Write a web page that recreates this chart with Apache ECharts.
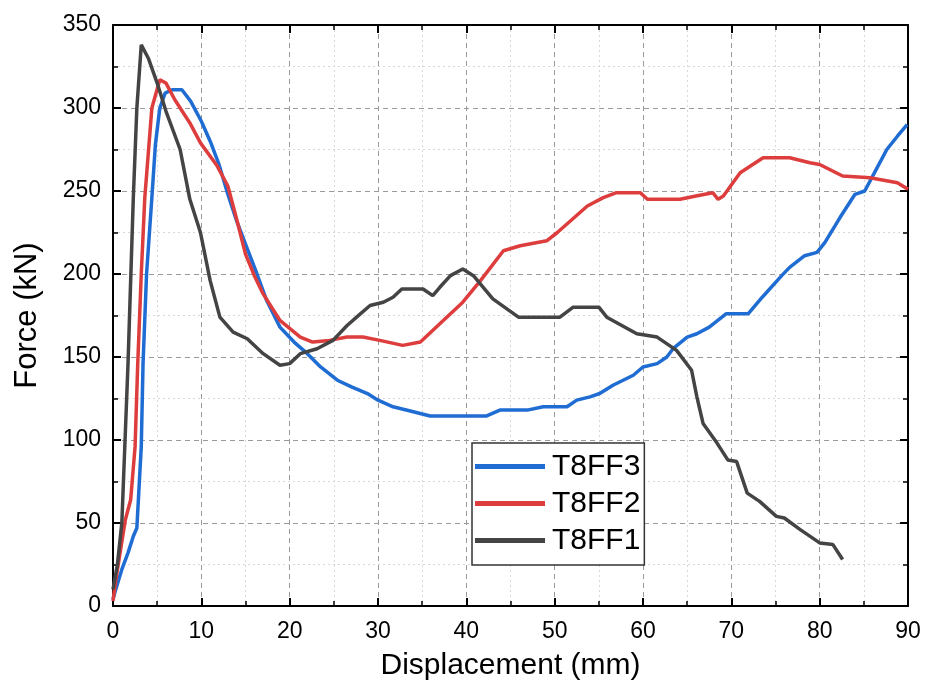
<!DOCTYPE html>
<html>
<head>
<meta charset="utf-8">
<script src="https://cdn.jsdelivr.net/npm/echarts@6/dist/echarts.min.js"></script>
<style>
html,body{margin:0;padding:0;background:#fff;}
#chart{width:934px;height:693px;}
</style>
</head>
<body>
<div id="chart"></div>
<script>
const seriesNames = ['T8FF3', 'T8FF2', 'T8FF1'];
const xTicks = [0, 10, 20, 30, 40, 50, 60, 70, 80, 90];
const yTicks = [0, 50, 100, 150, 200, 250, 300, 350];

const t8ff3 = [[0,4],[0.2,8],[1,22],[1.7,32],[2.3,42],[2.7,47],[3.2,96],[3.4,146],[3.8,200],[4.4,246],[4.8,278],[5.3,300],[5.9,309],[6.7,311],[7.8,311],[8.8,304],[10,292],[11,280],[12,266],[13,248],[14,232],[15,218],[16.3,200],[17.4,184],[18.9,168],[20.5,159],[22,152],[23.5,144],[25.4,136],[27,132],[28.8,128],[30,124],[31.7,120],[34,117],[35.9,114.5],[42.3,114.5],[43.8,118],[46.9,118],[48.7,120],[51.4,120],[52.5,124],[54,126],[55.1,128],[56.6,133],[58.9,139],[60,144],[61.6,146],[62.7,150],[63.4,155],[65,162],[66.1,164],[67.5,168],[69.4,176],[71.9,176],[73.5,186],[75.7,199],[76.6,204],[78.3,211],[79.7,213],[80.6,219],[82.3,234],[84,248],[85.1,250],[86.3,262],[87.6,275],[88.8,283],[89.9,290]];

const t8ff2 = [[0,3],[0.3,15],[0.8,32],[1.4,52],[2.0,64],[2.5,96],[2.8,146],[3.2,200],[3.6,246],[4.4,300],[5.3,317],[6,315],[7,305],[8.7,291],[9.9,279],[11.8,265],[13,253],[14,233],[15,212],[16,199],[17,188],[18.9,172],[21.2,162],[22.6,159],[24.5,160],[26.5,162],[28.3,162],[30.2,160],[32.8,157],[34.8,159],[37,170],[39.6,183],[41.6,196],[44.2,214],[46.1,217],[49.1,220],[50.3,225],[52,233],[53.7,241],[55.5,246],[57,249],[59.7,249],[60.5,245],[64.2,245],[66,247],[67.9,249],[68.5,245],[69.1,247],[71,261],[73.6,270],[76.6,270],[78.9,267],[80,266],[82.6,259],[85.7,258],[88.8,255],[90,251]];

const t8ff1 = [[0,10],[0.5,25],[1.0,50],[1.7,146],[2.3,246],[2.7,300],[3.2,338],[4,330],[5,315],[6,298],[7.6,275],[8.7,245],[9.9,225],[11,196],[12.1,174],[13.6,165],[15.2,161],[17,152],[18.9,145],[20,146],[21.2,152],[23.1,155],[24.9,160],[26.5,169],[28,176],[29.1,181],[30.6,183],[31.7,186],[32.7,191],[35.1,191],[36.2,187],[37,192],[38.2,199],[39.6,203],[40.8,199],[43,185],[45.9,174],[50.6,174],[52.1,180],[55,180],[55.9,174],[59.3,164],[61.6,162],[63.8,154],[65.5,142],[66.1,126],[66.8,110],[68.4,98],[69.6,88],[70.6,87],[71.8,68],[73.2,63],[75.1,54],[76,53],[77.8,46],[80,38],[81.5,37],[82.6,28]];

const colors = ['#1f6cd3', '#de3d3d', '#444444'];
const font = 'Liberation Sans, Arial, sans-serif';

const chart = echarts.init(document.getElementById('chart'));
const axisCommon = {
  type: 'value',
  axisLine: {show: true, onZero: false, lineStyle: {color: '#000', width: 2}},
  axisTick: {show: true, inside: true, length: 8, lineStyle: {color: '#000', width: 2}},
  minorTick: {show: true, splitNumber: 2, length: 5, lineStyle: {color: '#000', width: 1.5}},
};
const mainLabel = {color: '#000', fontSize: 23, fontFamily: font};
chart.setOption({
  animation: false,
  backgroundColor: '#fff',
  grid: {left: 113, right: 26, top: 25, bottom: 87, containLabel: false},
  legend: {
    data: seriesNames.map(n => ({name: n, icon: 'rect'})),
    orient: 'vertical',
    left: 472, top: 443,
    itemWidth: 70, itemHeight: 5, itemGap: 4,
    padding: [7, 4, 8, 3],
    borderColor: '#333', borderWidth: 1.5, backgroundColor: '#fff',
    textStyle: {color: '#000', fontSize: 30, fontFamily: font, lineHeight: 33, padding: [0,0,0,2]},
  },
  xAxis: [
    Object.assign({}, axisCommon, {
      min: xTicks[0], max: xTicks[xTicks.length-1], interval: 10,
      name: 'Displacement (mm)', nameLocation: 'middle', nameGap: 45,
      nameTextStyle: {color: '#000', fontSize: 30, fontFamily: font},
      axisLabel: Object.assign({margin: 14}, mainLabel),
      splitLine: {show: true, lineStyle: {color: '#9a9a9a', type: [5, 4], width: 1}},
      minorSplitLine: {show: true, lineStyle: {color: '#d8d8d8', type: [2, 3], width: 1}},
    }),
    Object.assign({}, axisCommon, {
      position: 'top', min: xTicks[0], max: xTicks[xTicks.length-1], interval: 10,
      axisLabel: {show: false}, splitLine: {show: false},
    }),
  ],
  yAxis: [
    Object.assign({}, axisCommon, {
      min: yTicks[0], max: yTicks[yTicks.length-1], interval: 50,
      name: 'Force (kN)', nameLocation: 'middle', nameGap: 70,
      nameTextStyle: {color: '#000', fontSize: 31, fontFamily: font},
      axisLabel: Object.assign({margin: 12}, mainLabel),
      splitLine: {show: true, lineStyle: {color: '#9a9a9a', type: [5, 4], width: 1}},
      minorSplitLine: {show: true, lineStyle: {color: '#d8d8d8', type: [2, 3], width: 1}},
    }),
    Object.assign({}, axisCommon, {
      position: 'right', min: yTicks[0], max: yTicks[yTicks.length-1], interval: 50,
      axisLabel: {show: false}, splitLine: {show: false},
    }),
  ],
  series: [
    {name: seriesNames[0], data: t8ff3, color: colors[0]},
    {name: seriesNames[1], data: t8ff2, color: colors[1]},
    {name: seriesNames[2], data: t8ff1, color: colors[2]},
  ].map(s => Object.assign({type: 'line', showSymbol: false, symbol: 'none', xAxisIndex: 0, yAxisIndex: 0,
      lineStyle: {width: 3.5, color: s.color}, itemStyle: {color: s.color}}, s)),
});
</script>
</body>
</html>
